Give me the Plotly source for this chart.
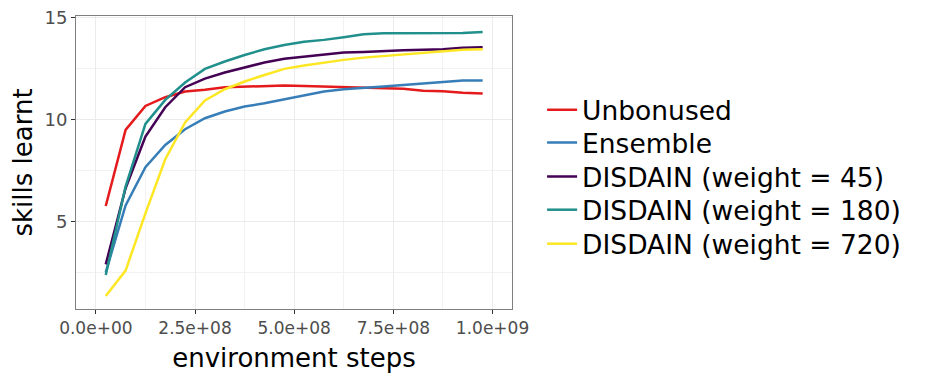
import plotly.graph_objects as go

steps = [0.25e8 + 0.5e8 * k for k in range(20)]

unbonused = [5.75, 9.48, 10.65, 11.08, 11.36, 11.44, 11.57, 11.6, 11.6, 11.65,
             11.63, 11.6, 11.55, 11.52, 11.52, 11.49, 11.4, 11.37, 11.3, 11.26]
ensemble = [2.5, 5.78, 7.65, 8.74, 9.51, 10.05, 10.38, 10.62, 10.78, 10.98,
            11.19, 11.36, 11.47, 11.52, 11.6, 11.68, 11.76, 11.85, 11.9, 11.9]
disdain_45 = [2.89, 6.62, 9.15, 10.59, 11.57, 11.99, 12.29, 12.55, 12.78, 12.96,
              13.07, 13.19, 13.27, 13.3, 13.35, 13.38, 13.4, 13.43, 13.51, 13.53]
disdain_180 = [2.37, 6.7, 9.77, 10.95, 11.8, 12.47, 12.83, 13.15, 13.43, 13.64,
               13.8, 13.89, 14.02, 14.17, 14.22, 14.23, 14.23, 14.25, 14.23, 14.28]
disdain_720 = [1.34, 2.58, 5.39, 8.04, 9.84, 10.92, 11.47, 11.85, 12.17, 12.47,
               12.63, 12.78, 12.91, 13.02, 13.1, 13.15, 13.24, 13.32, 13.4, 13.43]

names = ["Unbonused", "Ensemble", "DISDAIN (weight = 45)",
         "DISDAIN (weight = 180)", "DISDAIN (weight = 720)"]
series = [unbonused, ensemble, disdain_45, disdain_180, disdain_720]
colors = ["#e41a1c", "#377eb8", "#440154", "#21908c", "#fde725"]

x_tickvals = [0, 2.5e8, 5e8, 7.5e8, 1e9]
x_ticktext = ["0.0e+00", "2.5e+08", "5.0e+08", "7.5e+08", "1.0e+09"]
y_tickvals = [5, 10, 15]

# one legend per entry so the rows can be spaced like the original
legend_rows = [0.679, 0.567, 0.451, 0.338, 0.222]

fig = go.Figure()
for i, (name, ys, c) in enumerate(zip(names, series, colors)):
    leg = "legend" if i == 0 else f"legend{i + 1}"
    fig.add_trace(go.Scatter(x=steps, y=ys, name=name, mode="lines",
                             line=dict(color=c, width=2.5), legend=leg))

# the page body has an 8px margin, so the figure is drawn 8px smaller
fig.update_layout(
    width=921, height=373,
    margin=dict(l=68, r=417, t=8, b=72, autoexpand=False),
    plot_bgcolor="white", paper_bgcolor="white",
    font=dict(family="DejaVu Sans", color="black"),
    showlegend=True,
)
for i, yy in enumerate(legend_rows):
    key = "legend" if i == 0 else f"legend{i + 1}"
    fig.update_layout({key: dict(x=1.069, xanchor="left", y=yy, yanchor="middle",
                                 font=dict(size=26.5), itemwidth=30,
                                 bgcolor="rgba(0,0,0,0)")})

fig.update_xaxes(
    range=[-0.5e8, 1.049e9], tickvals=x_tickvals, ticktext=x_ticktext,
    ticks="outside", ticklen=4, tickcolor="#333333",
    tickfont=dict(size=17, color="#4d4d4d"), ticklabeloverflow="allow",
    showgrid=True, gridcolor="#ebebeb", gridwidth=1,
    minor=dict(tickvals=[1.25e8, 3.75e8, 6.25e8, 8.75e8], showgrid=True,
               gridcolor="#f2f2f2", ticklen=0),
    showline=True, linecolor="#7f7f7f", linewidth=1, mirror=True,
    zeroline=False, automargin=False,
    title=dict(text="environment steps", font=dict(size=26), standoff=11),
)
fig.update_yaxes(
    range=[0.7, 15.06], tickvals=y_tickvals,
    ticks="outside", ticklen=4, tickcolor="#333333",
    tickfont=dict(size=18, color="#4d4d4d"), ticklabeloverflow="allow",
    showgrid=True, gridcolor="#ebebeb", gridwidth=1,
    minor=dict(tickvals=[2.5, 7.5, 12.5], showgrid=True,
               gridcolor="#f2f2f2", ticklen=0),
    showline=True, linecolor="#7f7f7f", linewidth=1, mirror=True,
    zeroline=False, automargin=False,
    title=dict(text="skills learnt", font=dict(size=26), standoff=9),
)

fig.write_html("out.html")
